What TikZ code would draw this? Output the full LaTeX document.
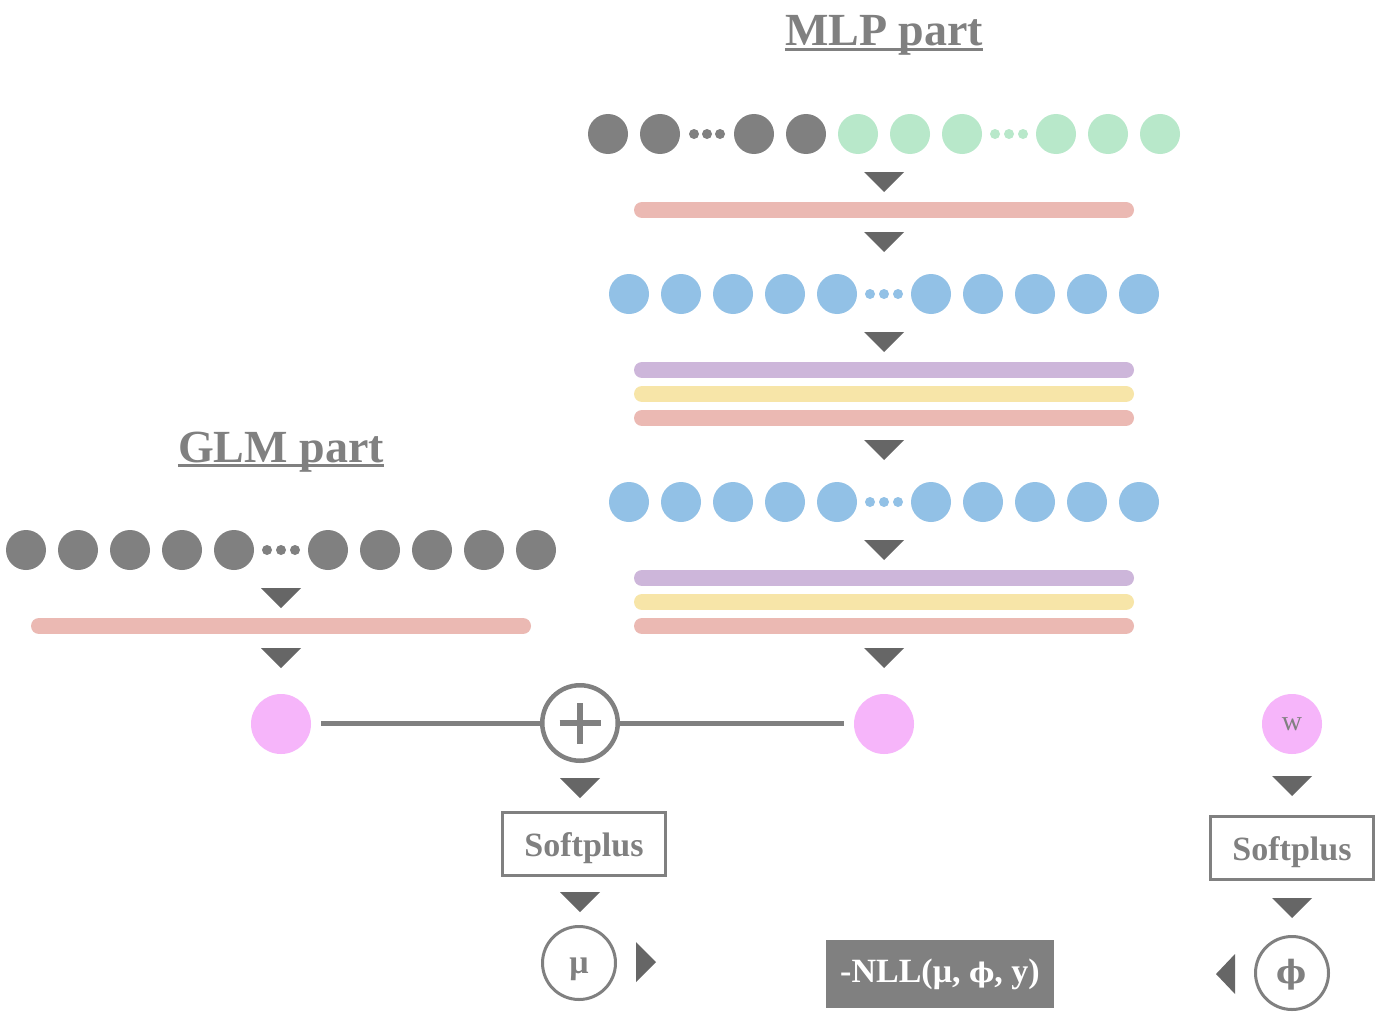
\documentclass[tikz,border=0pt]{standalone}
\usepackage{fontspec}
\setmainfont{Liberation Serif}
\newfontfamily\phifont{DejaVu Serif}
\usetikzlibrary{calc}
\definecolor{tg}{HTML}{808080}
\definecolor{tri}{HTML}{666666}
\definecolor{bpink}{HTML}{EBB9B3}
\definecolor{bpurple}{HTML}{CDB6DA}
\definecolor{byellow}{HTML}{F7E5A8}
\definecolor{cgreen}{HTML}{B8E8CA}
\definecolor{cblue}{HTML}{92C1E6}
\definecolor{npink}{HTML}{F6B5FA}
\newcommand\tridown[2]{\fill[tri] (#1-20,#2) -- (#1+20,#2) -- (#1,#2+20) -- cycle;}
\begin{document}
\begin{tikzpicture}[x=1pt,y=-1pt,
  dotc/.style={circle,inner sep=0pt,minimum size=40pt},
  gcirc/.style={dotc,fill=tg},
  grcirc/.style={dotc,fill=cgreen},
  bcirc/.style={dotc,fill=cblue},
  gsm/.style={circle,inner sep=0pt,minimum size=10pt,fill=tg},
  grsm/.style={circle,inner sep=0pt,minimum size=10pt,fill=cgreen},
  bsm/.style={circle,inner sep=0pt,minimum size=10pt,fill=cblue},
  pnode/.style={circle,inner sep=0pt,minimum size=60pt,fill=npink,text=tg,font=\fontsize{28}{30}\selectfont},
  bar/.style={line width=16pt,line cap=round},
  title/.style={inner sep=0pt,text=tg,font=\fontsize{46}{50}\selectfont\bfseries,anchor=base},
  spbox/.style={draw=tg,line width=3pt,minimum width=163pt,minimum height=63pt,inner sep=0pt,text=tg,text height=24pt,text depth=0pt,font=\fontsize{34}{36}\selectfont\bfseries},
  ocirc/.style={circle,draw=tg,line width=3pt,minimum size=73pt,inner sep=0pt,text=tg,text height=20pt,text depth=0pt,font=\fontsize{34}{36}\selectfont\bfseries},
  conn/.style={draw=tg,line width=5pt}
]
\useasboundingbox (0,0) rectangle (1388,1022);
\fill[white] (0,0) rectangle (1388,1022);

% titles
\node[title] (mlpt) at (884,46) {MLP part};
\draw[tg,line width=2.5pt] ([yshift=-3.5pt]mlpt.base west) -- ([yshift=-3.5pt]mlpt.base east);
\node[title] (glmt) at (281,462) {GLM part};
\draw[tg,line width=2.5pt] ([yshift=-3.5pt]glmt.base west) -- ([yshift=-3.5pt]glmt.base east);

% MLP input row
\foreach \i/\x in {1/608,2/660,3/754,4/806} \node[gcirc] (mi\i) at (\x,134) {};
\foreach \i/\x in {1/694,2/707,3/720} \node[gsm] (mid\i) at (\x,134) {};
\foreach \i/\x in {1/858,2/910,3/962,4/1056,5/1108,6/1160} \node[grcirc] (mg\i) at (\x,134) {};
\foreach \i/\x in {1/995,2/1009,3/1023} \node[grsm] (mgd\i) at (\x,134) {};
\tridown{884}{172}
\draw[bpink,bar] (642,210) -- (1126,210);
\tridown{884}{232}

% blue rows
\foreach \r/\y in {a/294,b/502}{
  \foreach \i/\x in {1/629,2/681,3/733,4/785,5/837,6/931,7/983,8/1035,9/1087,10/1139}
    \node[bcirc] (h\r\i) at (\x,\y) {};
  \foreach \i/\x in {1/870,2/884,3/898}
    \node[bsm] (hd\r\i) at (\x,\y) {};
}
\tridown{884}{332}
\draw[bpurple,bar] (642,370) -- (1126,370);
\draw[byellow,bar] (642,394) -- (1126,394);
\draw[bpink,bar] (642,418) -- (1126,418);
\tridown{884}{440}
\tridown{884}{540}
\draw[bpurple,bar] (642,578) -- (1126,578);
\draw[byellow,bar] (642,602) -- (1126,602);
\draw[bpink,bar] (642,626) -- (1126,626);
\tridown{884}{648}

% GLM row
\foreach \i/\x in {1/26,2/78,3/130,4/182,5/234,6/328,7/380,8/432,9/484,10/536}
  \node[gcirc] (gi\i) at (\x,550) {};
\foreach \i/\x in {1/267,2/281,3/295} \node[gsm] (gid\i) at (\x,550) {};
\tridown{281}{588}
\draw[bpink,bar] (39,626) -- (523,626);
\tridown{281}{648}

% outputs
\node[pnode] (glmout) at (281,724) {};
\node[pnode] (mlpout) at (884,724) {};
\node[circle,draw=tg,line width=4.5pt,minimum size=75.5pt,inner sep=0pt] (plus) at (580,723) {};
\draw[tg,line width=6pt] ([xshift=-20.5pt]plus.center) -- ([xshift=20.5pt]plus.center);
\draw[tg,line width=6pt] ([yshift=-20.5pt]plus.center) -- ([yshift=20.5pt]plus.center);
\draw[conn,shorten <=10pt] (glmout.east |- plus.center) -- (plus.west);
\draw[conn,shorten >=10pt] (plus.east) -- (mlpout.west |- plus.center);

\tridown{580}{778}
\node[spbox] (sp1) at (584,844) {Softplus};
\tridown{580}{892}
\node[ocirc] (mu) at (579,963) {μ};
\fill[tri] (636,942) -- (656,962) -- (636,982) -- cycle;

\node[fill=tg,minimum width=228pt,minimum height=68pt,inner sep=0pt,text=white,font=\fontsize{34}{36}\selectfont\bfseries] (nll) at (940,974) {-NLL(μ, {\phifont\fontsize{27}{30}\selectfont ϕ}, y)};

\node[pnode] (w) at (1292,724) {w};
\tridown{1292}{776}
\node[spbox] (sp2) at (1292,848) {Softplus};
\tridown{1292}{898}
\node[ocirc] (phi) at (1292,973) {\phifont\fontsize{32}{34}\selectfont ϕ};
\fill[tri] (1235,954) -- (1216,974) -- (1235,994) -- cycle;
\end{tikzpicture}
\end{document}
